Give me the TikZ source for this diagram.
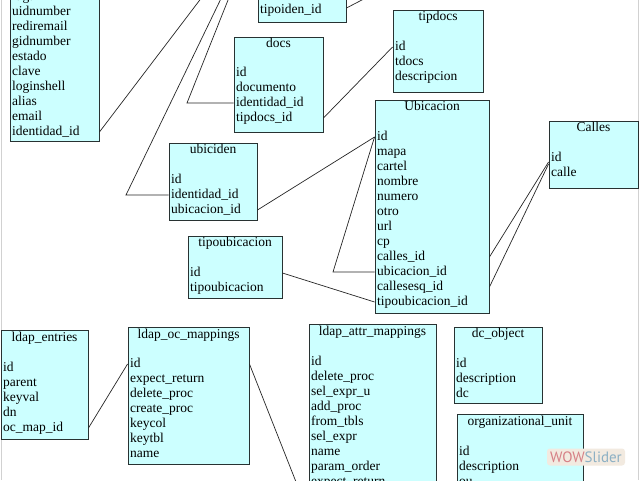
\documentclass[tikz,border=0pt]{standalone}
\usepackage{fontspec}
\setmainfont{Liberation Serif}
\newfontfamily\wowfont{PT Sans}
\usetikzlibrary{fit,calc}
\definecolor{tblfill}{RGB}{204,255,255}
\definecolor{tbldraw}{RGB}{40,50,50}
\definecolor{wowbg}{RGB}{242,234,224}
\definecolor{wowred}{RGB}{214,128,134}
\definecolor{wowblue}{RGB}{140,176,196}
\tikzset{
 tbl/.style={draw=tbldraw, fill=tblfill, line width=0.9pt, inner sep=0pt},
 ttl/.style={font=\fontsize{13.5}{15}\selectfont, inner sep=0pt, text height=9pt, text depth=3pt},
 row/.style={font=\fontsize{13.5}{15}\selectfont, inner sep=0pt, anchor=west, text height=9pt, text depth=3pt},
 conn/.style={draw=black!85, line width=0.7pt},
 edgeline/.style={draw=black!18, line width=1pt},
}
\newcommand\dbtable[9]{%
 \node[tbl, fit={(#2,#3) (#4,#5)}] (#1) {};
 \node[ttl] (#1-t) at ({(#2+#4)/2},#6) {#7};
 \foreach \r [count=\i] in {#9} {\node[row] (#1-\i) at ({#2+2},{#8+15*(\i-1)}) {\r};}
}
\begin{document}
\begin{tikzpicture}[x=1pt,y=-1pt]
\useasboundingbox (0,0) rectangle (640,480);
\fill[white] (0,0) rectangle (640,480);
\clip (0,0) rectangle (640,480);
\draw[edgeline] (1.5,0) -- (1.5,480);
\draw[edgeline] (638.5,0) -- (638.5,480);

% tables
\dbtable{ident}{10}{-40}{99}{141}{-60}{}{-3}{lugar,uidnumber,rediremail,gidnumber,estado,clave,loginshell,alias,email,identidad\_id}
\dbtable{tipoiden}{258}{-40}{346}{22}{-60}{}{-5}{numero,tipoiden\_id}
\dbtable{docs}{234}{37}{323}{132}{44}{docs}{73}{id,documento,identidad\_id,tipdocs\_id}
\dbtable{tipdocs}{393}{10}{483}{92}{17}{tipdocs}{47}{id,tdocs,descripcion}
\dbtable{ubic}{375}{100}{489}{313}{107}{Ubicacion}{137}{id,mapa,cartel,nombre,numero,otro,url,cp,calles\_id,ubicacion\_id,callesesq\_id,tipoubicacion\_id}
\dbtable{calles}{549}{121}{638}{188}{128}{Calles}{158}{id,calle}
\dbtable{ubiciden}{169}{143}{257}{220}{150}{ubiciden}{180}{id,identidad\_id,ubicacion\_id}
\dbtable{tipoubic}{188}{236}{282}{298}{243}{tipoubicacion}{273}{id,tipoubicacion}
\dbtable{entries}{1}{330}{88}{439}{338}{ldap\_entries}{368}{id,parent,keyval,dn,oc\_map\_id}
\dbtable{ocmap}{128}{327}{249}{464}{335}{ldap\_oc\_mappings}{364}{id,expect\_return,delete\_proc,create\_proc,keycol,keytbl,name}
\dbtable{attrmap}{309}{324}{436}{520}{332}{ldap\_attr\_mappings}{362}{id,delete\_proc,sel\_expr\_u,add\_proc,from\_tbls,sel\_expr,name,param\_order,expect\_return}
\dbtable{dcobj}{454}{327}{542}{403}{334}{dc\_object}{364}{id,description,dc}
\dbtable{orgunit}{457}{414}{583}{520}{422}{organizational\_unit}{452}{id,description,ou}

% connectors
\coordinate (offA) at (215,-20);
\coordinate (bendB) at (126,195);
\coordinate (offB) at (230,-20);
\coordinate (bendC) at (187,103);
\coordinate (offC) at (236,-20);
\coordinate (offD) at (385,-12);
\coordinate (bendU) at (333,272);
\coordinate (offE) at (300,492);

\draw[conn] (ident.east |- ident-10) -- (offA);
\draw[conn] (ubiciden.west |- ubiciden-2) -- (bendB) -- (offB);
\draw[conn] (docs.west |- docs-3) -- (bendC) -- (offC);
\draw[conn] (tipoiden.east |- tipoiden-2) ++(0,-2) -- (offD);
\draw[conn] (docs.east |- docs-4) -- (tipdocs.west |- tipdocs-1);
\draw[conn] (ubiciden.east |- ubiciden-3) -- (ubic.west |- ubic-1);
\draw[conn] (ubic.west |- ubic-1) -- (bendU) -- (ubic.west |- ubic-10);
\draw[conn] (tipoubic.east |- tipoubic-1) -- (ubic.west |- ubic-12);
\draw[conn] (ubic.east |- ubic-9) -- ($(calles.west |- calles-1)+(0,4)$);
\draw[conn] (ubic.east |- ubic-11) -- ($(calles.west |- calles-1)+(0,6)$);
\draw[conn] (entries.east |- entries-5) -- (ocmap.west |- ocmap-1);
\draw[conn] (ocmap.east |- ocmap-1) -- (offE);

% watermark
\node[fill=wowbg, rounded corners=3pt, minimum width=78pt, minimum height=17pt, inner sep=0pt, font=\wowfont\fontsize{15}{15}\selectfont] (wow) at (586,457) {\textcolor{wowred}{WOW}\textcolor{wowblue}{Slider}};
\end{tikzpicture}
\end{document}
